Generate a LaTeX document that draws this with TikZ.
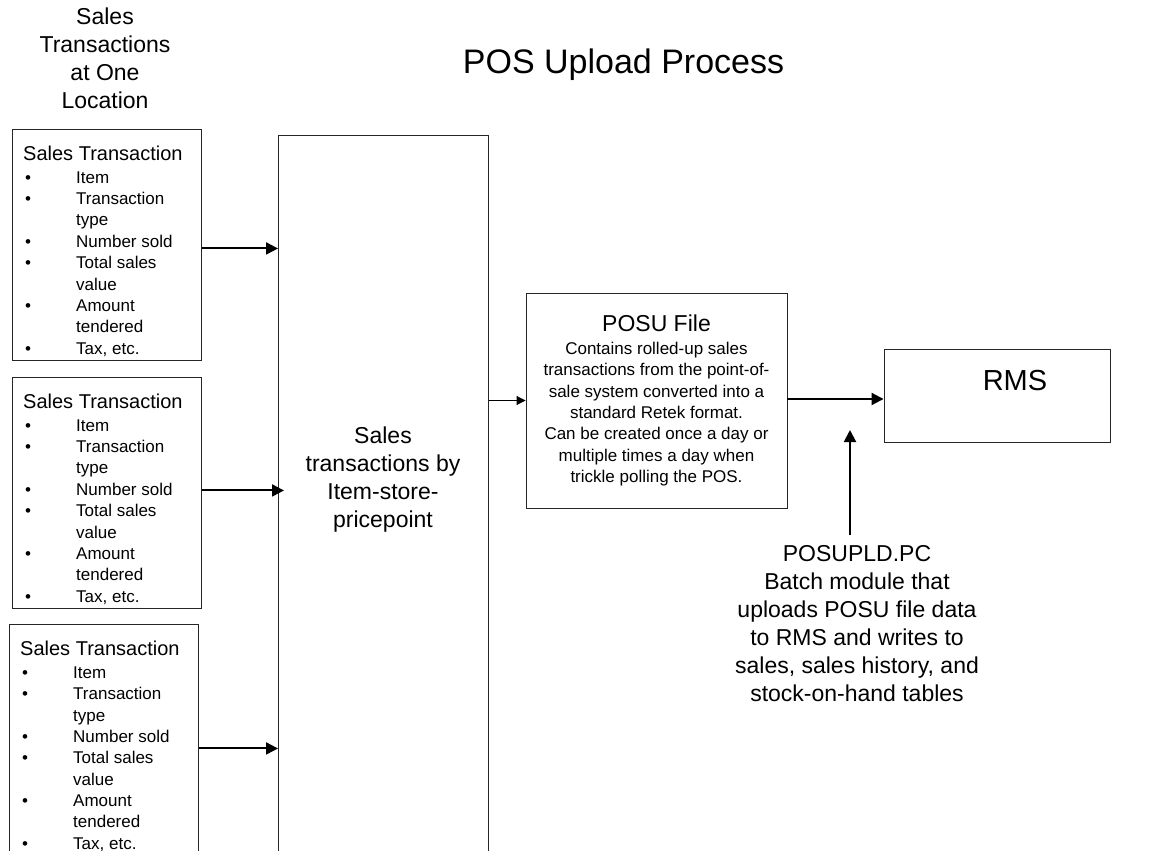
\documentclass[tikz,border=0pt]{standalone}
\usepackage{fontspec}
\setmainfont{Liberation Sans}
\usetikzlibrary{arrows.meta}

\newcommand{\stbul}{\makebox[53pt][l]{\hspace{2pt}\textbullet}}
\newcommand{\stind}{\hspace*{53pt}}
\newcommand{\salesitems}{{\fontsize{20}{24}\selectfont Sales Transaction}\\[1.6pt]
  \stbul Item\\ \stbul Transaction\\ \stind type\\ \stbul Number sold\\
  \stbul Total sales\\ \stind value\\ \stbul Amount\\ \stind tendered\\ \stbul Tax, etc.}

\begin{document}
\begin{tikzpicture}[x=1pt, y=-1pt,
    box/.style={draw=black!85, line width=0.9pt, inner sep=0pt},
    big/.style={font=\fontsize{23}{28}\selectfont, align=center, inner sep=0pt},
    link/.style={-{Triangle[length=12pt, width=12pt]}, line width=2pt},
    thinlink/.style={-{Triangle[length=9pt, width=9pt]}, line width=0.9pt}]
    \clip (0,0) rectangle (1152,851);

    \node[font=\fontsize{34}{40}\selectfont, anchor=base, inner sep=0pt] (title) at (623.5,74) {POS Upload Process};
    \node[big] (loc) at (105,58.2) {Sales\\Transactions\\at One\\Location};

    \foreach \i/\x/\y in {1/12/129, 2/12/377, 3/9/624} {
      \node[box, minimum width=189pt, minimum height=231pt, anchor=north west] (st\i) at (\x,\y) {};
      \node[anchor=north west, align=left, inner sep=0pt, font=\fontsize{17}{21.4}\selectfont]
        (st\i txt) at ([shift={(11,16.5)}]st\i.north west) {\salesitems};
    }

    \node[box, minimum width=210pt, minimum height=740pt, anchor=north west] (rollup) at (278,135) {};
    \node[big] (rolluptxt) at (383,479.6) {Sales\\transactions by\\Item-store-\\pricepoint};

    \node[box, minimum width=261pt, minimum height=215pt, align=center, font=\fontsize{17}{21.3}\selectfont]
      (posu) at (656.5,400.5) {{\fontsize{23}{28}\selectfont POSU File}\\[1.7pt]
      Contains rolled-up sales\\transactions from the point-of-\\sale system converted into a\\
      standard Retek format.\\Can be created once a day or\\multiple times a day when\\trickle polling the POS.};

    \node[box, minimum width=226pt, minimum height=93pt,
      label={[font=\fontsize{29}{34}\selectfont, xshift=18pt, yshift=14.5pt]center:RMS}] (rms) at (997,395.5) {};

    \node[big] (upld) at (857,623.4) {POSUPLD.PC\\Batch module that\\uploads POSU file data\\to RMS and writes to\\sales, sales history, and\\stock-on-hand tables};

    \foreach \i/\dy/\ext in {1/3.5/0pt, 2/-2.5/-6pt, 3/8.5/0pt} {
      \draw[link, shorten >=\ext] ([shift={(0,\dy)}]st\i.east) -- ([shift={(0,\dy)}]st\i.east -| rollup.west);
    }
    \draw[thinlink] (rollup.east |- posu.west) -- (posu.west);
    \draw[link] ([yshift=1.5pt]posu.east) -- ([yshift=1.5pt]posu.east -| rms.west);

    \coordinate (jobend) at (850,430);
    \draw[link, shorten <=9.7pt] (jobend |- upld.north) -- (jobend);
\end{tikzpicture}
\end{document}
